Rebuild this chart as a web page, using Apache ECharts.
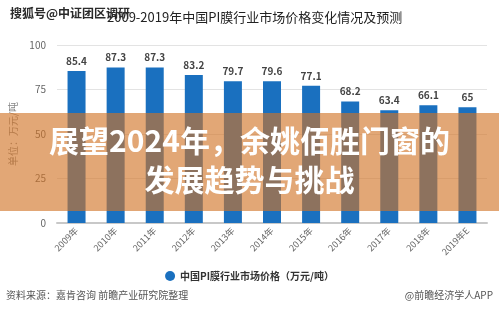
<!DOCTYPE html>
<html><head><meta charset="utf-8">
<script src="https://cdn.jsdelivr.net/npm/echarts@6/dist/echarts.min.js"></script>
<style>html,body{margin:0;padding:0;background:#fff}#c{width:499px;height:324px}</style>
</head><body><div id="c"></div>
<script>
const categories = ['2009年','2010年','2011年','2012年','2013年','2014年','2015年','2016年','2017年','2018年','2019年E'];
const prices = [85.4, 87.3, 87.3, 83.2, 79.7, 79.6, 77.1, 68.2, 63.4, 66.1, 65];
const seriesName = '中国PI膜行业市场价格（万元/吨）';
const titleText = '2009-2019年中国PI膜行业市场价格变化情况及预测';
const yAxisName = '单位：万元/吨';
const sourceText = '资料来源：嘉肯咨询 前瞻产业研究院整理';
const creditText = '@前瞻经济学人APP';
const watermarkText = '搜狐号@中证团区调研';
const bannerLine1 = '展望2024年，余姚佰胜门窗的';
const bannerLine2 = '发展趋势与挑战';

const font = '"Noto Sans CJK SC", "Noto Sans", sans-serif';
const chart = echarts.init(document.getElementById('c'), null, {renderer: 'canvas'});
chart.setOption({
  animation: false,
  backgroundColor: '#fff',
  textStyle: {fontFamily: font},
  title: {
    text: titleText, left: 102, top: 6,
    textStyle: {fontSize: 13, fontWeight: 'normal', color: '#222', fontFamily: font}
  },
  legend: {
    data: [seriesName], top: 266, left: 'center', icon: 'circle',
    itemWidth: 10, itemHeight: 10, itemGap: 6,
    textStyle: {fontSize: 10, color: '#333', fontWeight: 'bold', fontFamily: font}
  },
  grid: {left: 57, right: 12, top: 45, bottom: 101},
  xAxis: {
    type: 'category', data: categories,
    axisLine: {lineStyle: {color: '#c8c8c8', width: 2}},
    axisTick: {alignWithLabel: true, lineStyle: {color: '#c8c8c8'}},
    axisLabel: {rotate: 45, fontSize: 9, color: '#666', margin: 6, fontFamily: font}
  },
  yAxis: {
    type: 'value', min: 0, max: 100, interval: 25,
    name: yAxisName, nameLocation: 'middle', nameGap: 37, nameRotate: 90,
    nameTextStyle: {fontSize: 10, color: '#888', fontFamily: font},
    axisLine: {show: false}, axisTick: {show: false},
    axisLabel: {fontSize: 10, color: '#666', margin: 11, fontFamily: font},
    splitLine: {lineStyle: {color: '#e3e3e3'}}
  },
  series: [{
    name: seriesName, type: 'bar', data: prices, barWidth: 18,
    itemStyle: {color: '#1a70bf'},
    label: {show: true, position: 'top', fontSize: 10, fontWeight: 'bold', color: '#444', distance: 5, fontFamily: font}
  }],
  graphic: [
    {type: 'text', left: 10, top: 7, z: 100,
     style: {text: watermarkText, fontSize: 12, fontWeight: 'bold', fill: '#2a2a2a', fontFamily: font}},
    {type: 'rect', left: 0, top: 113, z: 100,
     shape: {width: 499, height: 98},
     style: {fill: 'rgba(209,115,38,0.63)'}},
    {type: 'text', left: 'center', top: 126, z: 101,
     style: {text: bannerLine1, fontSize: 30, fontWeight: 'bold', fill: '#fff', fontFamily: font}},
    {type: 'text', left: 'center', top: 165, z: 101,
     style: {text: bannerLine2, fontSize: 30, fontWeight: 'bold', fill: '#fff', fontFamily: font}},
    {type: 'text', left: 6, top: 290, z: 100,
     style: {text: sourceText, fontSize: 10, fill: '#555', fontFamily: font}},
    {type: 'text', right: 6, top: 290, z: 100,
     style: {text: creditText, fontSize: 10, fill: '#555', fontFamily: font}}
  ]
});
</script></body></html>
